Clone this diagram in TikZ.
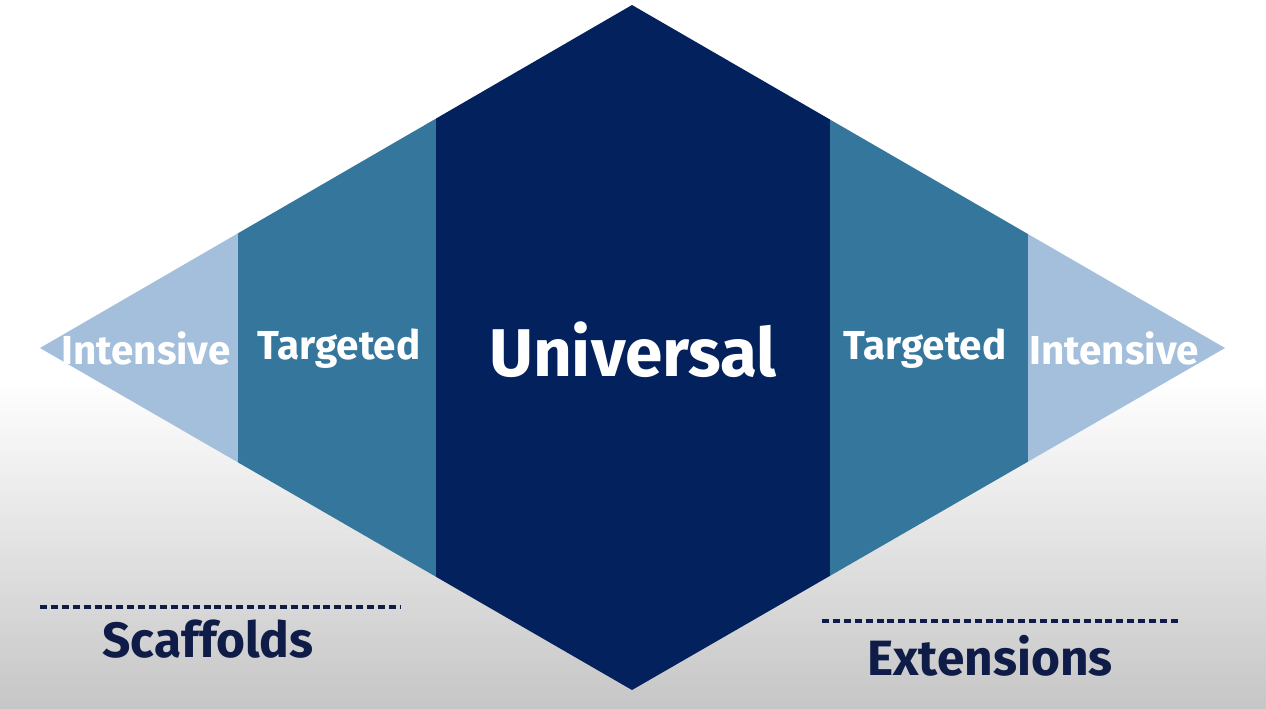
\documentclass[tikz,border=0pt]{standalone}
\usepackage{fontspec}
\setmainfont{Fira Sans}
\usetikzlibrary{positioning}
\definecolor{lightband}{HTML}{A3BFDB}
\definecolor{midband}{HTML}{35769D}
\definecolor{navyband}{HTML}{03215C}
\definecolor{labelnavy}{HTML}{0E1C47}
\definecolor{bgbottom}{HTML}{C6C6C6}
\tikzset{
    band/.style={draw=none},
    bandtext/.style={text=white, font=\bfseries\fontsize{11.5}{14}\selectfont, inner sep=0pt},
    maintext/.style={text=white, font=\bfseries\fontsize{19.2}{23}\selectfont, inner sep=0pt},
    sidelabel/.style={text=labelnavy, font=\bfseries\fontsize{14.1}{17}\selectfont, inner sep=0pt},
    dashline/.style={draw=labelnavy, line width=0.9pt, dash pattern=on 2pt off 1.1pt}
}

\begin{document}
\begin{tikzpicture}[x=0.01cm, y=-0.01cm]

% Background
\useasboundingbox (0,0) rectangle (1266,708);
\fill[white] (0,0) rectangle (1266,708);
\shade[top color=white, bottom color=bgbottom] (0,380) rectangle (1266,708);

% Diamond corners
\coordinate (west) at (40,348);
\coordinate (north) at (632,5);
\coordinate (east) at (1225,348);
\coordinate (south) at (632,690);

% Bands clipped to the diamond
\begin{scope}
\clip (west) -- (north) -- (east) -- (south) -- cycle;
\fill[band, lightband] (0,0) rectangle (238,708);
\fill[band, midband] (238,0) rectangle (436,708);
\fill[band, navyband] (436,0) rectangle (830,708);
\fill[band, midband] (830,0) rectangle (1028,708);
\fill[band, lightband] (1028,0) rectangle (1266,708);
\end{scope}

% Band labels
\node[bandtext] (int1) at (146,348) {Intensive};
\node[bandtext] (tar1) at (339,349) {Targeted};
\node[maintext] (univ) at (633,350) {Universal};
\node[bandtext] (tar2) at (925,349) {Targeted};
\node[bandtext] (int2) at (1114,348) {Intensive};

% Scaffolds / Extensions
\coordinate (sl) at (40,607);
\coordinate (sr) at (400,607);
\coordinate (el) at (822,621);
\coordinate (er) at (1181,621);
\draw[dashline] (sl) -- (sr);
\draw[dashline] (el) -- (er);
\node[sidelabel] (scaf) at (208,639) {Scaffolds};
\node[sidelabel] (ext) at (990,656) {Extensions};

\end{tikzpicture}
\end{document}
